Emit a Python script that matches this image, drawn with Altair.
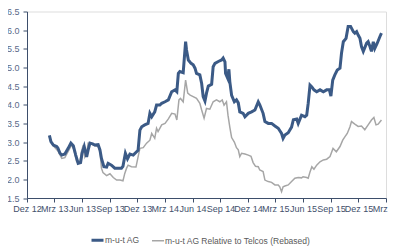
import altair as alt
import pandas as pd

SERIES = ["m-u-t AG", "m-u-t AG Relative to Telcos (Rebased)"]

mut_dates = ["2013-02-13","2013-02-18","2013-02-26","2013-03-09","2013-03-13","2013-03-20","2013-03-26","2013-04-05","2013-04-16","2013-04-25",
"2013-05-03","2013-05-11","2013-05-19","2013-05-27","2013-06-01","2013-06-08","2013-06-16","2013-06-21","2013-06-27","2013-07-06",
"2013-07-13","2013-07-24","2013-07-30","2013-08-04","2013-08-12","2013-08-21","2013-08-26","2013-09-06","2013-09-17","2013-09-28",
"2013-10-09","2013-10-14","2013-10-22","2013-10-29","2013-11-06","2013-11-17","2013-11-28","2013-12-03","2013-12-09","2013-12-15",
"2013-12-25","2014-01-05","2014-01-11","2014-01-17","2014-01-27","2014-02-02","2014-02-13","2014-02-19","2014-03-02","2014-03-13",
"2014-03-24","2014-04-04","2014-04-10","2014-04-15","2014-04-20","2014-05-01","2014-05-09","2014-05-12","2014-05-18","2014-05-27",
"2014-06-03","2014-06-09","2014-06-14","2014-06-25","2014-07-01","2014-07-06","2014-07-12","2014-07-17","2014-07-23","2014-08-03",
"2014-08-08","2014-08-14","2014-08-25","2014-09-05","2014-09-10","2014-09-16","2014-09-18","2014-09-25","2014-09-29","2014-10-02",
"2014-10-08","2014-10-17","2014-10-24","2014-10-30","2014-11-04","2014-11-15","2014-11-21","2014-12-02","2014-12-13","2014-12-24",
"2015-01-04","2015-01-09","2015-01-20","2015-01-26","2015-02-06","2015-02-17","2015-02-28","2015-03-11","2015-03-22","2015-03-27",
"2015-04-02","2015-04-13","2015-04-24","2015-04-30","2015-05-11","2015-05-16","2015-05-27","2015-06-07","2015-06-13","2015-06-18",
"2015-06-24","2015-06-30","2015-07-07","2015-07-16","2015-07-27","2015-08-07","2015-08-18","2015-08-27","2015-09-01","2015-09-07",
"2015-09-14","2015-09-22","2015-10-01","2015-10-06","2015-10-12","2015-10-21","2015-10-28","2015-11-05","2015-11-14","2015-11-19",
"2015-11-25","2015-11-30","2015-12-06","2015-12-11","2015-12-17","2015-12-28","2016-01-02","2016-01-08","2016-01-13","2016-01-19",
"2016-01-24","2016-02-01","2016-02-10","2016-02-15"]
mut_values = [3.18,3.01,2.92,2.88,2.84,2.70,2.65,2.68,2.83,2.97,
2.90,2.65,2.43,2.45,2.70,2.88,2.60,2.79,2.97,2.95,
2.92,2.93,2.79,2.56,2.34,2.33,2.43,2.38,2.30,2.30,
2.30,2.35,2.70,2.55,2.68,2.65,2.74,2.78,3.32,3.41,
3.46,3.50,3.77,3.68,3.81,3.99,3.99,4.04,4.08,4.13,
4.35,4.40,4.35,4.84,4.89,4.86,5.69,5.47,5.20,5.11,
5.07,4.98,4.84,4.80,4.57,4.22,4.10,4.31,4.50,4.55,
5.02,5.11,5.16,5.20,5.25,5.15,4.84,4.71,4.95,4.62,
4.25,4.08,4.13,4.05,3.81,3.77,3.68,3.77,3.81,3.86,
4.08,4.00,3.77,3.55,3.50,3.50,3.43,3.37,3.23,3.10,
3.19,3.25,3.40,3.60,3.62,3.50,3.72,3.68,3.72,4.04,
4.53,4.48,4.40,4.35,4.40,4.35,4.40,4.40,4.23,4.66,
4.80,4.93,4.98,5.38,5.69,5.78,6.10,6.10,5.96,5.92,
5.96,5.87,5.78,5.56,5.43,5.65,5.69,5.56,5.43,5.69,
5.51,5.65,5.83,5.92]

rel_dates = ["2013-02-13","2013-02-18","2013-02-26","2013-03-14","2013-03-26","2013-04-05","2013-04-16","2013-04-27","2013-05-05","2013-05-14",
"2013-05-25","2013-05-30","2013-06-05","2013-06-10","2013-06-16","2013-06-21","2013-07-03","2013-07-13","2013-07-24","2013-07-30",
"2013-08-04","2013-08-09","2013-08-21","2013-09-01","2013-09-12","2013-09-23","2013-10-04","2013-10-14","2013-10-20","2013-10-26",
"2013-10-31","2013-11-11","2013-11-26","2013-12-03","2013-12-09","2013-12-20","2013-12-31","2014-01-11","2014-01-17","2014-01-27",
"2014-02-02","2014-02-07","2014-02-19","2014-03-02","2014-03-13","2014-03-24","2014-04-04","2014-04-10","2014-04-17","2014-04-22",
"2014-05-01","2014-05-09","2014-05-16","2014-05-24","2014-06-03","2014-06-14","2014-06-25","2014-07-01","2014-07-09","2014-07-17",
"2014-07-28","2014-08-08","2014-08-19","2014-08-30","2014-09-07","2014-09-13","2014-09-21","2014-09-26","2014-10-02","2014-10-08",
"2014-10-17","2014-10-24","2014-10-30","2014-11-04","2014-11-10","2014-11-21","2014-12-02","2014-12-11","2014-12-18","2014-12-26",
"2015-01-04","2015-01-09","2015-01-20","2015-01-26","2015-02-06","2015-02-17","2015-02-28","2015-03-11","2015-03-16","2015-03-22",
"2015-03-27","2015-04-02","2015-04-13","2015-04-24","2015-05-05","2015-05-16","2015-05-27","2015-06-01","2015-06-13","2015-06-18",
"2015-06-24","2015-06-30","2015-07-07","2015-07-16","2015-07-27","2015-08-07","2015-08-18","2015-08-29","2015-09-08","2015-09-19",
"2015-10-01","2015-10-10","2015-10-17","2015-10-25","2015-11-03","2015-11-08","2015-11-19","2015-11-30","2015-12-11","2015-12-22",
"2016-01-02","2016-01-13","2016-01-21","2016-01-28","2016-02-04","2016-02-15"]
rel_values = [3.15,3.00,2.90,2.75,2.56,2.58,2.75,2.92,2.80,2.47,
2.47,2.75,2.92,2.60,2.70,2.97,2.95,2.90,2.88,2.75,
2.30,2.18,2.10,2.15,2.05,1.98,1.98,1.96,2.16,2.30,
2.38,2.34,2.33,2.60,2.83,2.85,2.97,3.05,3.23,3.10,
3.37,3.28,3.46,3.50,3.62,3.77,3.75,3.59,4.13,4.17,
4.08,4.66,4.31,4.26,4.22,4.17,4.04,3.86,3.64,3.90,
3.88,4.08,4.13,4.08,4.13,3.99,4.08,3.72,3.40,3.12,
3.00,2.85,2.79,2.61,2.70,2.68,2.65,2.62,2.45,2.35,
2.34,2.25,2.21,1.98,1.94,1.92,1.85,1.85,1.80,1.67,
1.80,1.82,1.85,1.94,2.03,2.05,2.04,2.07,2.05,2.03,
2.20,2.34,2.27,2.38,2.47,2.52,2.54,2.61,2.83,2.74,
2.88,3.05,3.14,3.23,3.41,3.55,3.48,3.42,3.43,3.33,
3.46,3.59,3.66,3.46,3.48,3.59]

y_ticks = [1.5, 2.0, 2.5, 3.0, 3.5, 4.0, 4.5, 5.0, 5.5, 6.0, 6.5]
x_tick_months = [(2012, 12), (2013, 3), (2013, 6), (2013, 9), (2013, 12), (2014, 3), (2014, 6),
                 (2014, 9), (2014, 12), (2015, 3), (2015, 6), (2015, 9), (2015, 12), (2016, 3)]

df = pd.concat([
    pd.DataFrame({"date": mut_dates, "value": mut_values, "series": SERIES[0]}),
    pd.DataFrame({"date": rel_dates, "value": rel_values, "series": SERIES[1]}),
])

NAVY = "#3b5a86"
GREY = "#a6a6a6"
FONT = "Liberation Sans"

x_enc = alt.X(
    "date:T",
    scale=alt.Scale(type="utc", domain=[alt.DateTime(year=2012, month=12, date=1, utc=True),
                                        alt.DateTime(year=2016, month=3, date=1, utc=True)], nice=False),
    axis=alt.Axis(
        values=[alt.DateTime(year=y, month=m, date=1, utc=True) for y, m in x_tick_months],
        labelExpr="(utcmonth(datum.value)==11?'Dez':utcmonth(datum.value)==2?'Mrz':utcmonth(datum.value)==5?'Jun':'Sep') + ' ' + utcFormat(datum.value, '%y')",
        labelOverlap=False, labelFlush=False, labelBound=False,
        grid=False, tickSize=4, labelPadding=2, title=None,
        labelFontSize=9, labelColor="#43506c", labelFont=FONT,
        domainColor="#3d4e6b", tickColor="#3d4e6b",
    ),
)
y_enc = alt.Y(
    "value:Q",
    scale=alt.Scale(domain=[1.5, 6.5], nice=False, zero=False),
    axis=alt.Axis(values=y_ticks, format=".1f", grid=False, tickSize=4, labelPadding=4,
                  labelOverlap=False, title=None, labelFontSize=9, labelColor="#5a6a88",
                  labelFont=FONT, domainColor="#3d4e6b", tickColor="#3d4e6b"),
)
legend_cfg = dict(orient="none", legendX=63, legendY=221, direction="horizontal",
                  title=None, symbolType="stroke", symbolSize=144, labelOffset=0,
                  columnPadding=9, padding=0, labelFontSize=8.5, labelFont=FONT,
                  labelColor="#595959")
color_enc = alt.Color(
    "series:N",
    scale=alt.Scale(domain=SERIES, range=[NAVY, GREY]),
    legend=alt.Legend(**legend_cfg),
)
sw_enc = alt.StrokeWidth(
    "series:N",
    scale=alt.Scale(domain=SERIES, range=[3, 1.5]),
    legend=alt.Legend(**legend_cfg),
)

base = alt.Chart(df)
grey_line = base.transform_filter(alt.datum.series == SERIES[1]).mark_line().encode(
    x=x_enc, y=y_enc, color=color_enc, strokeWidth=sw_enc)
navy_line = base.transform_filter(alt.datum.series == SERIES[0]).mark_line().encode(
    x=x_enc, y=y_enc, color=color_enc, strokeWidth=sw_enc)

chart = alt.layer(grey_line, navy_line).properties(
    width=359, height=186.5,
    autosize=alt.AutoSizeParams(type="none"),
    padding={"left": 19, "top": 3.5, "right": 4, "bottom": 48},
).configure_view(stroke=None).configure(background="white")

chart.save("out.html", embed_options={"renderer": "svg", "actions": False})
